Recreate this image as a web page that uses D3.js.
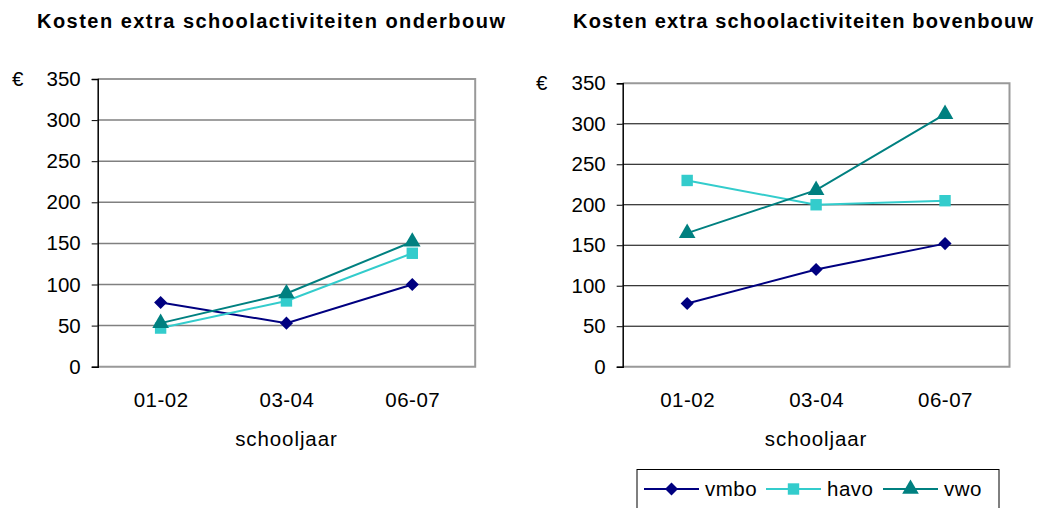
<!DOCTYPE html>
<html>
<head>
<meta charset="utf-8">
<script src="https://cdn.jsdelivr.net/npm/d3@7"></script>
<style>
  body { margin: 0; background: #fff; }
  svg text { font-family: "Liberation Sans", Arial, sans-serif; fill: #000; }
</style>
</head>
<body>
<svg width="1051" height="508"></svg>
<script>
var schooljaren = ["01-02", "03-04", "06-07"];
var yTicks = [0, 50, 100, 150, 200, 250, 300, 350];
var reeksen = ["vmbo", "havo", "vwo"];

// onderbouw
var onderVmbo = [78, 53, 100];
var onderHavo = [47, 80, 138];
var onderVwo = [53, 89, 152];

// bovenbouw
var bovenVmbo = [78, 120, 152];
var bovenHavo = [230, 200, 205];
var bovenVwo = [165, 218, 312];

var kleuren = { vmbo: "#000080", havo: "#33CCCC", vwo: "#008080" };
var vormen = { vmbo: d3.symbolSquare, havo: d3.symbolSquare, vwo: d3.symbolTriangle };
var vormGrootte = { vmbo: 85, havo: 130, vwo: 120 };
var draai = { vmbo: 45, havo: 0, vwo: 0 };

var svg = d3.select("svg");

function marker(r) {
  return d3.symbol().type(vormen[r]).size(vormGrootte[r])();
}

function tekenGrafiek(opt) {
  var x = d3.scalePoint()
            .domain(schooljaren)
            .range([opt.left, opt.right])
            .padding(0.5);
  var y = d3.scaleLinear()
            .domain([0, 350])
            .range([opt.bottom, opt.top]);

  var g = svg.append("g");

  // titel
  g.append("text")
    .attr("x", opt.titleX)
    .attr("y", 28)
    .attr("text-anchor", "middle")
    .attr("font-size", "20px")
    .attr("font-weight", "bold")
    .attr("textLength", opt.titleW)
    .attr("lengthAdjust", "spacing")
    .text(opt.title);

  // gridlijnen
  g.selectAll(".grid")
    .data(yTicks.slice(1, -1))
    .enter()
    .append("line")
    .attr("x1", opt.left)
    .attr("x2", opt.right)
    .attr("y1", function(d) { return y(d); })
    .attr("y2", function(d) { return y(d); })
    .attr("stroke", opt.gridColor)
    .attr("stroke-width", opt.gridWidth);

  // kader
  g.append("path")
    .attr("d", "M" + opt.left + "," + y(350) + "H" + opt.right + "V" + y(0) + "H" + opt.left)
    .attr("fill", "none")
    .attr("stroke", "#999")
    .attr("stroke-width", 2);

  // y-as
  var yAxis = d3.axisLeft(y)
                .tickValues(yTicks)
                .tickSize(6)
                .tickPadding(11);
  var ya = g.append("g")
    .attr("transform", "translate(" + opt.left + ",0)")
    .call(yAxis);
  ya.select(".domain").attr("stroke", "#000").attr("stroke-width", 1.5);
  ya.selectAll(".tick line").attr("stroke", "#000");
  ya.selectAll("text")
    .attr("font-size", "20.5px")
    .attr("font-family", "Liberation Sans, Arial, sans-serif")
    .attr("fill", "#000");

  // x-labels
  var xAxis = d3.axisBottom(x).tickSize(0).tickPadding(26);
  var xa = g.append("g")
    .attr("transform", "translate(0," + opt.bottom + ")")
    .call(xAxis);
  xa.select(".domain").remove();
  xa.selectAll("text")
    .attr("font-size", "20.5px")
    .attr("font-family", "Liberation Sans, Arial, sans-serif")
    .attr("letter-spacing", "0.5px")
    .attr("fill", "#000");

  g.append("text")
    .attr("x", opt.euroX)
    .attr("y", y(350) + 7)
    .attr("font-size", "20.5px")
    .text("€");

  g.append("text")
    .attr("x", (opt.left + opt.right) / 2)
    .attr("y", 446)
    .attr("text-anchor", "middle")
    .attr("font-size", "20.5px")
    .attr("letter-spacing", "0.9px")
    .text("schooljaar");

  var lijn = d3.line()
               .x(function(d, i) { return x(schooljaren[i]); })
               .y(function(d) { return y(d); });

  reeksen.forEach(function(r) {
    var waarden = opt.data[r];
    g.append("path")
      .datum(waarden)
      .attr("d", lijn)
      .attr("fill", "none")
      .attr("stroke", kleuren[r])
      .attr("stroke-width", 2);

    g.selectAll(".m-" + r)
      .data(waarden)
      .enter()
      .append("path")
      .attr("transform", function(d, i) {
        return "translate(" + x(schooljaren[i]) + "," + y(d) + ") rotate(" + draai[r] + ")";
      })
      .attr("d", marker(r))
      .attr("fill", kleuren[r]);
  });
}

tekenGrafiek({
  title: "Kosten extra schoolactiviteiten onderbouw",
  titleX: 271, titleW: 468,
  left: 97.7, right: 475.2, top: 79, bottom: 366.7,
  gridColor: "#808080", gridWidth: 1.5,
  euroX: 12,
  data: { vmbo: onderVmbo, havo: onderHavo, vwo: onderVwo }
});

tekenGrafiek({
  title: "Kosten extra schoolactiviteiten bovenbouw",
  titleX: 803, titleW: 460,
  left: 622.7, right: 1009.5, top: 83.3, bottom: 366.7,
  gridColor: "#000", gridWidth: 1,
  euroX: 536,
  data: { vmbo: bovenVmbo, havo: bovenHavo, vwo: bovenVwo }
});

// legenda
var legenda = svg.append("g");
legenda.append("rect")
  .attr("x", 637)
  .attr("y", 469.5)
  .attr("width", 362)
  .attr("height", 45)
  .attr("fill", "#fff")
  .attr("stroke", "#000")
  .attr("stroke-width", 1);

var legX = d3.scaleOrdinal().domain(reeksen).range([644, 766, 883]);

var item = legenda.selectAll(".item")
  .data(reeksen)
  .enter()
  .append("g")
  .attr("transform", function(d) { return "translate(" + legX(d) + ",489)"; });

item.append("line")
  .attr("x1", 0).attr("x2", 55)
  .attr("stroke", function(d) { return kleuren[d]; })
  .attr("stroke-width", 2);
item.append("path")
  .attr("transform", function(d) { return "translate(27.5,0) rotate(" + draai[d] + ")"; })
  .attr("d", function(d) { return marker(d); })
  .attr("fill", function(d) { return kleuren[d]; });
item.append("text")
  .attr("x", 61)
  .attr("y", 7)
  .attr("font-size", "20.5px")
  .attr("letter-spacing", "0.5px")
  .text(function(d) { return d; });
</script>
</body>
</html>
